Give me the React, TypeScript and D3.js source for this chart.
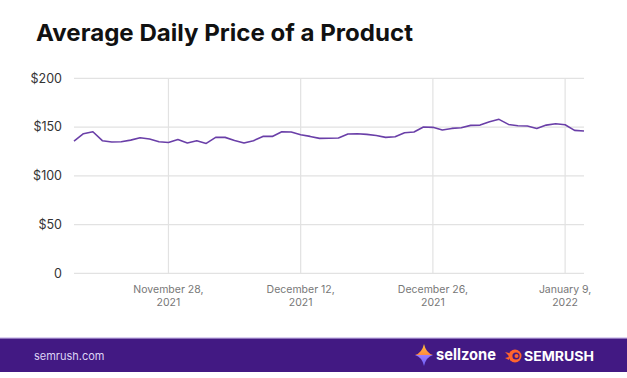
import React from "react";
import * as d3 from "d3";

const startDate = new Date(2021, 10, 18);
const endDate = new Date(2022, 0, 11);
const prices = [
  135.6, 143.2, 145.2, 136, 134.6, 135, 136.6, 139, 137.7, 135,
  134.2, 137.3, 133.6, 136, 133.2, 139.4, 139.4, 136.3, 133.6, 136,
  140.4, 140.4, 145.2, 144.9, 142.1, 140.4, 138.4, 138.5, 138.7, 142.8,
  143.2, 142.5, 141.4, 139.4, 140, 144.2, 144.9, 150, 149.7, 146.9,
  148.6, 149.3, 151.7, 152, 155.5, 157.9, 152.7, 151.4, 151, 148.6,
  152, 153.4, 152.4, 146.6, 145.9,
];
const yTicks = [0, 50, 100, 150, 200];
const yTickLabels = ["0", "$50", "$100", "$150", "$200"];
const xTickDates = [
  new Date(2021, 10, 28),
  new Date(2021, 11, 12),
  new Date(2021, 11, 26),
  new Date(2022, 0, 9),
];
const xTickLabels = [
  ["November 28,", "2021"],
  ["December 12,", "2021"],
  ["December 26,", "2021"],
  ["January 9,", "2022"],
];

const W = 627;
const H = 378;
const FONT = "Inter, 'Noto Sans', sans-serif";

export default function App() {
  const dates = d3.timeDay.range(startDate, d3.timeDay.offset(endDate, 1));
  const data = prices.map((v, i) => ({ d: dates[i], v }));
  const x = d3.scaleTime().domain([startDate, endDate]).range([74, 584]);
  const y = d3.scaleLinear().domain([0, 200]).range([273.3, 78.3]);
  const line = d3
    .line<{ d: Date; v: number }>()
    .x((p) => x(p.d))
    .y((p) => y(p.v));

  return (
    <>
      <style>{`body{margin:0}`}</style>
      <svg width={W} height={H} style={{ display: "block" }} fontFamily={FONT}>
        <rect width={W} height={H} fill="#fff" />
        <text x={36} y={41} fontSize={23.5} fontWeight={700} fill="#111" textLength={377} lengthAdjust="spacingAndGlyphs">
          Average Daily Price of a Product
        </text>
        {yTicks.map((t, i) => (
          <g key={t}>
            <line x1={74} x2={584} y1={y(t)} y2={y(t)} stroke="#e2e2e2" strokeWidth={1.2} />
            <text x={62} y={y(t)} dy="0.35em" textAnchor="end" fontSize={12.5} fill="#333">
              {yTickLabels[i]}
            </text>
          </g>
        ))}
        {xTickDates.map((d, i) => (
          <g key={i}>
            <line x1={x(d)} x2={x(d)} y1={y(200)} y2={y(0)} stroke="#e2e2e2" strokeWidth={1.2} />
            <text x={x(d)} y={293} textAnchor="middle" fontSize={10.5} fill="#777">
              {xTickLabels[i][0]}
            </text>
            <text x={x(d)} y={305.5} textAnchor="middle" fontSize={10.5} fill="#777">
              {xTickLabels[i][1]}
            </text>
          </g>
        ))}
        <path d={line(data) || ""} fill="none" stroke="#6a3fa8" strokeWidth={1.6} strokeLinejoin="round" />

        <rect x={0} y={337.5} width={W} height={1} fill="#b9a6e6" />
        <rect x={0} y={338.5} width={W} height={33.5} fill="#421983" />
        <text x={34} y={356} dy="0.35em" fontSize={11} fill="#ddd3f5">
          semrush.com
        </text>
        <defs>
          <linearGradient id="starTop" x1="0" y1="0" x2="0" y2="1">
            <stop offset="0" stopColor="#ffc23d" />
            <stop offset="1" stopColor="#ff8a3d" />
          </linearGradient>
          <linearGradient id="starBot" x1="0" y1="0" x2="0" y2="1">
            <stop offset="0" stopColor="#9b7cff" />
            <stop offset="1" stopColor="#6a5cf0" />
          </linearGradient>
        </defs>
        <g transform="translate(424,355)">
          <path d="M0,-11 Q2,-2 9,0 L-9,0 Q-2,-2 0,-11 Z" fill="url(#starTop)" />
          <path d="M-9,0 L9,0 Q2,2 0,11 Q-2,2 -9,0 Z" fill="url(#starBot)" />
        </g>
        <text x={436} y={355} dy="0.35em" fontSize={15.5} fontWeight={700} fill="#fff" textLength={60} lengthAdjust="spacingAndGlyphs">
          sellzone
        </text>
        <g transform="translate(515,356)">
          <circle r={6.5} fill="#ff642d" />
          <circle r={3.6} cx={1} fill="#421983" />
          <circle r={2} cx={1.5} fill="#ff642d" />
          <path d="M-6,-3 L-10,-4 L-6,0 Z M-6,1 L-10,2 L-6,4 Z" fill="#ff642d" />
        </g>
        <text x={524} y={356} dy="0.35em" fontSize={13} fontWeight={700} fill="#fff" textLength={70} lengthAdjust="spacingAndGlyphs">
          SEMRUSH
        </text>
      </svg>
    </>
  );
}
